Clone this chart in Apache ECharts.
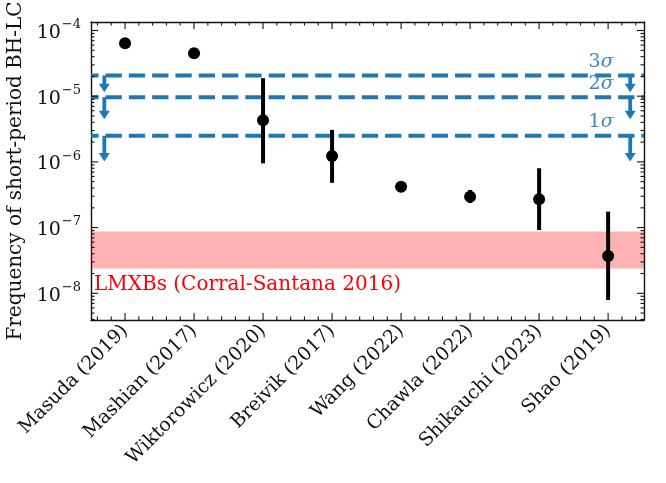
<!DOCTYPE html>
<html>
<head>
<meta charset="utf-8">
<script src="https://cdn.jsdelivr.net/npm/echarts@6/dist/echarts.min.js"></script>
<style>
  html, body { margin: 0; padding: 0; background: #ffffff; }
  #chart { width: 666px; height: 483px; }
</style>
</head>
<body>
<div id="chart"></div>
<script>
// Published estimates of the short-period BH-LC frequency
const studies = ['Masuda (2019)', 'Mashian (2017)', 'Wiktorowicz (2020)', 'Breivik (2017)',
                 'Wang (2022)', 'Chawla (2022)', 'Shikauchi (2023)', 'Shao (2019)'];
const frequency = [6.4e-5, 4.5e-5, 4.3e-6, 1.23e-6, 4.2e-7, 2.95e-7, 2.7e-7, 3.7e-8];
const freqLow   = [null, null, 9.5e-7, 4.8e-7, null, 2.37e-7, 9.2e-8, 7.9e-9];
const freqHigh  = [null, null, 1.88e-5, 3.07e-6, null, 3.74e-7, 8.0e-7, 1.75e-7];

// Upper limits (1, 2, 3 sigma) and where their arrows point
const sigmaNames = ['1', '2', '3'];
const sigmaLimits = [2.49e-6, 9.66e-6, 2.07e-5];
const sigmaArrowTips = [1.01e-6, 4.47e-6, 1.15e-5];

// LMXB-based range (Corral-Santana 2016)
const lmxbRange = [2.38e-8, 8.75e-8];

// Axis ticks
const yMajorTicks = [1e-8, 1e-7, 1e-6, 1e-5, 1e-4];
const studyIndex = [0, 1, 2, 3, 4, 5, 6, 7];

const Y_MIN = 3.92e-9, Y_MAX = 1.347e-4;
const X_MIN = -0.493, X_MAX = 7.52;
const FONT = 'DejaVu Serif';
const INK = '#111111';
const BLUE = '#1f77b4';

// minor ticks: 2..9 x 10^n on y, every 0.2 on x
const yMinorTicks = [];
for (let e = -9; e <= -4; e++) {
  for (let m = 2; m <= 9; m++) {
    const v = m * Math.pow(10, e);
    if (v > Y_MIN && v < Y_MAX) yMinorTicks.push(v);
  }
}
const xMinorTicks = [];
for (let k = -2; k <= 37; k++) {
  if (k % 5 !== 0) xMinorTicks.push(k / 5);
}
const xTickData = studyIndex.map(v => [v, 1]).concat(xMinorTicks.map(v => [v, 0]));
const yTickData = yMajorTicks.map(v => [v, 1]).concat(yMinorTicks.map(v => [v, 0]));

function powLabel(v) {
  const e = Math.round(Math.log10(v));
  return '{b|10}{e|' + String(e).replace('-', '\u2212') + '}';
}

function xAxisDef(position, showLabel) {
  return {
    type: 'value', position: position, min: X_MIN, max: X_MAX,
    splitLine: { show: false },
    axisLine: { show: true, onZero: false, lineStyle: { color: INK, width: 1.4 } },
    axisTick: { show: false },
    axisLabel: showLabel ? {
      show: true, customValues: studyIndex, rotate: 45, margin: 8,
      fontFamily: FONT, fontSize: 19, color: INK,
      formatter: (v) => studies[Math.round(v)]
    } : { show: false }
  };
}

function yAxisDef(position, showLabel) {
  return {
    type: 'log', logBase: 10, position: position, min: Y_MIN, max: Y_MAX,
    splitLine: { show: false },
    axisLine: { show: true, onZero: false, lineStyle: { color: INK, width: 1.4 } },
    axisTick: { show: false },
    axisLabel: showLabel ? {
      show: true, customValues: yMajorTicks, margin: 10, color: INK,
      formatter: powLabel,
      rich: {
        b: { fontFamily: FONT, fontSize: 19, color: INK, lineHeight: 24, verticalAlign: 'bottom' },
        e: { fontFamily: FONT, fontSize: 13, color: INK, lineHeight: 24, verticalAlign: 'top', padding: [0, 0, 0, 1] }
      }
    } : { show: false },
    name: showLabel ? 'Frequency of short-period BH-LC' : '',
    nameLocation: 'middle', nameRotate: 90, nameGap: 58,
    nameTextStyle: { fontFamily: FONT, fontSize: 20, color: INK }
  };
}

const errorData = studyIndex.filter(i => freqLow[i] !== null).map(i => [i, freqLow[i], freqHigh[i]]);
const pointData = studyIndex.map(i => [i, frequency[i]]);
const sigmaData = sigmaLimits.map((v, i) => [i, v, sigmaArrowTips[i]]);

const chart = echarts.init(document.getElementById('chart'), null, { renderer: 'canvas' });
chart.setOption({
  animation: false,
  backgroundColor: '#ffffff',
  grid: { left: 91, right: 22, top: 22, bottom: 163, containLabel: false, outerBoundsMode: 'none' },
  xAxis: [xAxisDef('bottom', true), xAxisDef('top', false)],
  yAxis: [yAxisDef('left', true), yAxisDef('right', false)],
  series: [
    // shaded LMXB band
    {
      type: 'custom', clip: true, z: 1,
      data: [[lmxbRange[0], lmxbRange[1]]],
      encode: { x: -1, y: [0, 1] },
      renderItem: (params, api) => {
        const a = api.coord([X_MIN, api.value(1)]);
        const b = api.coord([X_MAX, api.value(0)]);
        return { type: 'rect', shape: { x: a[0], y: a[1], width: b[0] - a[0], height: b[1] - a[1] },
                 style: { fill: 'rgba(255,0,0,0.3)' } };
      }
    },
    // LMXB label
    {
      type: 'custom', clip: false, z: 2, silent: true,
      data: [[-0.45, 1.34e-8]],
      renderItem: (params, api) => {
        const p = api.coord([api.value(0), api.value(1)]);
        return { type: 'text', x: p[0], y: p[1],
                 style: { text: 'LMXBs (Corral-Santana 2016)', fill: '#ff0000', font: '20px "DejaVu Serif"',
                          align: 'left', verticalAlign: 'middle' } };
      }
    },
    // dashed upper-limit lines with downward arrows
    {
      type: 'custom', clip: true, z: 3,
      data: sigmaData,
      encode: { x: -1, y: [1, 2] },
      renderItem: (params, api) => {
        const v = api.value(1), tip = api.value(2);
        const l = api.coord([-0.62, v]);
        const r = api.coord([7.7, v]);
        const children = [{
          type: 'line', shape: { x1: l[0], y1: l[1], x2: r[0], y2: r[1] },
          style: { stroke: BLUE, lineWidth: 4, lineDash: [16.3, 7] }
        }];
        [-0.3, 7.32].forEach(xa => {
          const top = api.coord([xa, v]);
          const bot = api.coord([xa, tip]);
          children.push({ type: 'line', shape: { x1: top[0], y1: top[1], x2: bot[0], y2: bot[1] - 6 },
                          style: { stroke: BLUE, lineWidth: 3.8 } });
          children.push({ type: 'polygon',
                          shape: { points: [[bot[0] - 5.5, bot[1] - 8.5], [bot[0] + 5.5, bot[1] - 8.5], [bot[0], bot[1]]] },
                          style: { fill: BLUE } });
        });
        return { type: 'group', children: children };
      }
    },
    // sigma labels
    {
      type: 'custom', clip: false, z: 3, silent: true,
      data: sigmaData,
      encode: { x: -1, y: 1 },
      renderItem: (params, api) => {
        const p = api.coord([7.08, api.value(1)]);
        return { type: 'text', x: p[0], y: p[1] - 4,
                 style: { text: '{n|' + sigmaNames[params.dataIndex] + '}{s|σ}', align: 'right', verticalAlign: 'bottom',
                          rich: { n: { fontFamily: FONT, fontSize: 19, fill: '#3a88c2' },
                                  s: { fontFamily: FONT, fontSize: 19, fontStyle: 'italic', fill: '#3a88c2' } } } };
      }
    },
    // error bars
    {
      type: 'custom', clip: true, z: 4,
      data: errorData,
      encode: { x: 0, y: [1, 2] },
      renderItem: (params, api) => {
        const a = api.coord([api.value(0), api.value(1)]);
        const b = api.coord([api.value(0), api.value(2)]);
        return { type: 'line', shape: { x1: a[0], y1: a[1], x2: b[0], y2: b[1] },
                 style: { stroke: '#000000', lineWidth: 4 } };
      }
    },
    // estimates
    {
      type: 'scatter', z: 5,
      data: pointData,
      symbol: 'circle', symbolSize: 12,
      itemStyle: { color: '#000000', opacity: 1 }
    },
    // inward ticks on bottom and top frame edges
    {
      type: 'custom', clip: false, z: 6, silent: true,
      data: xTickData,
      encode: { x: 0, y: -1 },
      renderItem: (params, api) => {
        const len = api.value(1) ? 7 : 3.5;
        const b = api.coord([api.value(0), Y_MIN]);
        const t = api.coord([api.value(0), Y_MAX]);
        const st = { stroke: INK, lineWidth: 1.1 };
        return { type: 'group', children: [
          { type: 'line', shape: { x1: b[0], y1: b[1], x2: b[0], y2: b[1] - len }, style: st },
          { type: 'line', shape: { x1: t[0], y1: t[1], x2: t[0], y2: t[1] + len }, style: st }
        ] };
      }
    },
    // inward ticks on left and right frame edges
    {
      type: 'custom', clip: false, z: 6, silent: true,
      data: yTickData,
      encode: { x: -1, y: 0 },
      renderItem: (params, api) => {
        const len = api.value(1) ? 7 : 3.5;
        const l = api.coord([X_MIN, api.value(0)]);
        const r = api.coord([X_MAX, api.value(0)]);
        const st = { stroke: INK, lineWidth: 1.1 };
        return { type: 'group', children: [
          { type: 'line', shape: { x1: l[0], y1: l[1], x2: l[0] + len, y2: l[1] }, style: st },
          { type: 'line', shape: { x1: r[0], y1: r[1], x2: r[0] - len, y2: r[1] }, style: st }
        ] };
      }
    }
  ]
});
</script>
</body>
</html>
